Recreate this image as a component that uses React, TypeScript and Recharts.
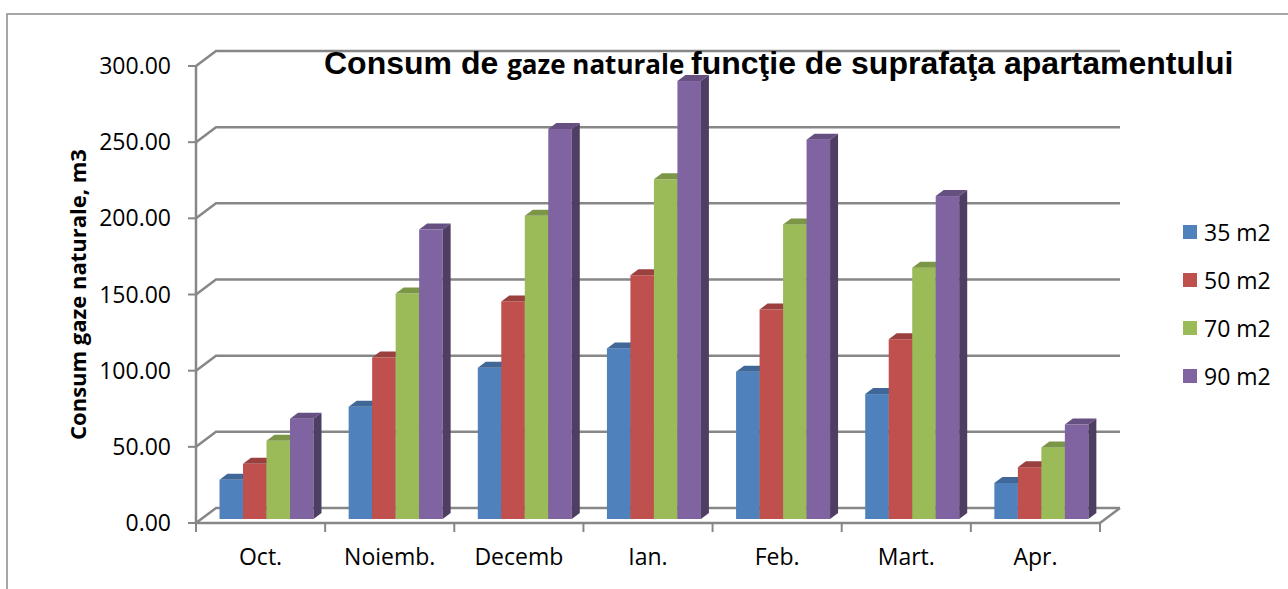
import { Bar, BarChart, CartesianGrid, Customized, Legend, XAxis, YAxis } from "recharts";

const months = ["Oct.", "Noiemb.", "Decemb", "Ian.", "Feb.", "Mart.", "Apr."];
const m35 = [25.7, 73.7, 99.3, 112, 96.7, 82, 23.7];
const m50 = [36.2, 106, 142.8, 160, 137.5, 118, 34];
const m70 = [51.3, 148, 199, 223, 193.4, 165, 47];
const m90 = [65.8, 190, 256, 287.5, 249, 212, 62];
const yTicks = [0, 50, 100, 150, 200, 250, 300];

const seriesNames = ["35 m2", "50 m2", "70 m2", "90 m2"];
const seriesKeys = ["m35", "m50", "m70", "m90"];
const seriesColors = ["#4F81BD", "#C0504D", "#9BBB59", "#8064A2"];

const data = months.map((month, i) => ({
  month,
  m35: m35[i],
  m50: m50[i],
  m70: m70[i],
  m90: m90[i],
}));

// layout of the pseudo-3D frame
const WIDTH = 1288;
const HEIGHT = 589;
const PLOT_LEFT = 196;
const PLOT_RIGHT = 1100;
const PLOT_TOP = 66;
const PLOT_BOTTOM = 523;
const LEGEND_W = 105;
const Y_AXIS_W = 100;
const X_AXIS_H = 50;
const WALL_DX = 20;
const WALL_DY = 15;
const BAR_DX = 8;
const BAR_DY = 6;
const BAR_SHIFT_X = 5.5;
const BAR_SHIFT_Y = -4;
const GRID_COLOR = "#878787";
const FONT = "'Open Sans', Calibri, sans-serif";
const TEXT_SIZE = 23;

function shade(hex: string, f: number): string {
  const n = parseInt(hex.slice(1), 16);
  const r = Math.round(((n >> 16) & 255) * f);
  const g = Math.round(((n >> 8) & 255) * f);
  const b = Math.round((n & 255) * f);
  return `rgb(${r},${g},${b})`;
}

function Bar3D(props: any) {
  const { x, y, width, height, fill } = props;
  if (height == null || height <= 0) return null;
  const x0 = x + BAR_SHIFT_X;
  const y0 = y + BAR_SHIFT_Y;
  const w = width;
  const h = height;
  return (
    <g>
      <rect x={x0} y={y0} width={w} height={h} fill={fill} />
      <polygon
        points={`${x0},${y0} ${x0 + BAR_DX},${y0 - BAR_DY} ${x0 + w + BAR_DX},${y0 - BAR_DY} ${x0 + w},${y0}`}
        fill={shade(fill, 0.8)}
      />
      <polygon
        points={`${x0 + w},${y0} ${x0 + w + BAR_DX},${y0 - BAR_DY} ${x0 + w + BAR_DX},${y0 + h - BAR_DY} ${x0 + w},${y0 + h}`}
        fill={shade(fill, 0.62)}
      />
    </g>
  );
}

function WallLine(props: any) {
  const { x1, x2, y1 } = props;
  return (
    <polyline
      points={`${x1},${y1} ${x1 + WALL_DX},${y1 - WALL_DY} ${x2 + WALL_DX},${y1 - WALL_DY}`}
      fill="none"
      stroke={GRID_COLOR}
      strokeWidth={2.5}
    />
  );
}

function MonthTick(props: any) {
  const { x, y, payload, index } = props;
  const band = (PLOT_RIGHT - PLOT_LEFT) / months.length;
  const last = index === months.length - 1;
  return (
    <g>
      <line x1={x - band / 2} y1={y} x2={x - band / 2} y2={y + 9} stroke={GRID_COLOR} strokeWidth={2} />
      {last && <line x1={x + band / 2} y1={y} x2={x + band / 2} y2={y + 9} stroke={GRID_COLOR} strokeWidth={2} />}
      <text x={x} y={y + 42} textAnchor="middle" fontFamily={FONT} fontSize={TEXT_SIZE} fill="#000">
        {payload.value}
      </text>
    </g>
  );
}

function Frame() {
  return (
    <g>
      <rect x={7} y={14} width={WIDTH} height={HEIGHT} fill="none" stroke="#8a8a8a" strokeWidth={1.5} />
      {/* floor right edge */}
      <line
        x1={PLOT_RIGHT}
        y1={PLOT_BOTTOM}
        x2={PLOT_RIGHT + WALL_DX}
        y2={PLOT_BOTTOM - WALL_DY}
        stroke={GRID_COLOR}
        strokeWidth={2.5}
      />
      <text x={324} y={74} fontWeight="bold" fill="#000">
        <tspan fontFamily="'Liberation Sans', Arial, sans-serif" fontSize={32}>Consum de </tspan>
        <tspan fontFamily={FONT} fontSize={26}>gaze naturale </tspan>
        <tspan fontFamily="'Liberation Sans', Arial, sans-serif" fontSize={32}>
          funcţie de suprafaţa apartamentului
        </tspan>
      </text>
      <text
        x={86}
        y={(PLOT_TOP + PLOT_BOTTOM) / 2}
        transform={`rotate(-90, 86, ${(PLOT_TOP + PLOT_BOTTOM) / 2})`}
        textAnchor="middle"
        fontFamily={FONT}
        fontWeight="bold"
        fontSize={22}
        fill="#000"
      >
        Consum gaze naturale, m3
      </text>
    </g>
  );
}

function LegendBox() {
  return (
    <div style={{ width: LEGEND_W }}>
      {seriesNames.map((name, i) => (
        <div key={name} style={{ display: "flex", alignItems: "center", height: 48 }}>
          <span style={{ width: 14, height: 14, background: seriesColors[i], marginRight: 7 }} />
          <span style={{ fontFamily: FONT, fontSize: TEXT_SIZE, color: "#000" }}>{name}</span>
        </div>
      ))}
    </div>
  );
}

export default function App() {
  return (
    <div style={{ width: WIDTH, height: HEIGHT, background: "#fff", overflow: "hidden" }}>
      <style>{"body{margin:0}"}</style>
      <BarChart
        width={WIDTH}
        height={HEIGHT}
        data={data}
        barGap={0}
        margin={{
          top: PLOT_TOP,
          left: PLOT_LEFT - Y_AXIS_W,
          right: WIDTH - PLOT_RIGHT - LEGEND_W,
          bottom: HEIGHT - PLOT_BOTTOM - X_AXIS_H,
        }}
      >
        <CartesianGrid vertical={false} horizontal={(p: any) => <WallLine key={p.key} {...p} />} />
        <XAxis
          dataKey="month"
          height={X_AXIS_H}
          tickSize={0}
          tickMargin={0}
          tickLine={false}
          axisLine={{ stroke: GRID_COLOR, strokeWidth: 2.5 }}
          tick={<MonthTick />}
          interval={0}
        />
        <YAxis
          width={Y_AXIS_W}
          domain={[0, 300]}
          ticks={yTicks}
          tickFormatter={(v: number) => v.toFixed(2)}
          tickSize={8}
          tickMargin={17}
          tick={{ fontFamily: FONT, fontSize: TEXT_SIZE, fill: "#000" }}
          tickLine={{ stroke: GRID_COLOR, strokeWidth: 2 }}
          axisLine={{ stroke: GRID_COLOR, strokeWidth: 2.5 }}
        />
        <Legend
          layout="vertical"
          align="right"
          verticalAlign="middle"
          content={<LegendBox />}
          wrapperStyle={{ left: 1183, top: 208, right: "auto", width: LEGEND_W }}
        />
        {seriesKeys.map((k, i) => (
          <Bar
            key={k}
            dataKey={k}
            name={seriesNames[i]}
            fill={seriesColors[i]}
            barSize={23.5}
            shape={Bar3D}
            isAnimationActive={false}
          />
        ))}
        <Customized component={Frame} />
      </BarChart>
    </div>
  );
}
